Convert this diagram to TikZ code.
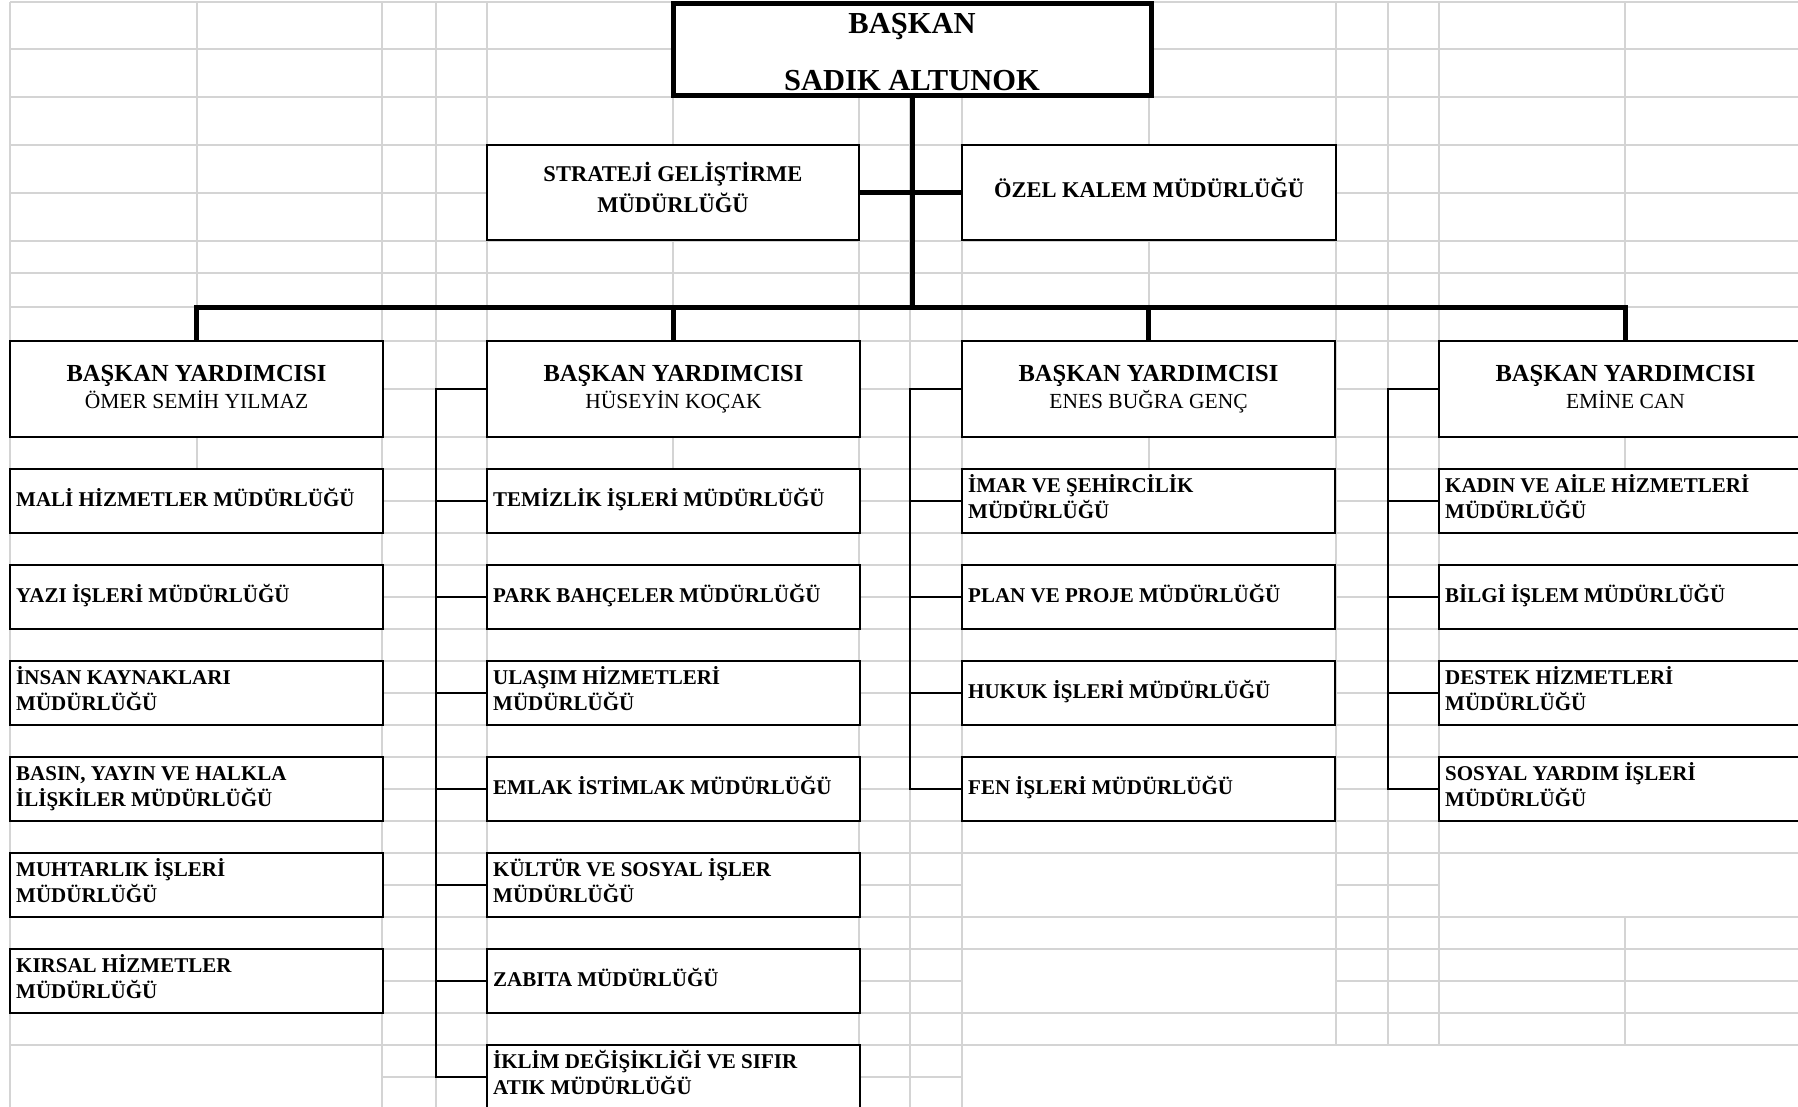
\documentclass[tikz,border=0pt]{standalone}
\usepackage{fontspec}
\setmainfont{Liberation Serif}
\definecolor{gridgray}{RGB}{212,212,212}
\tikzset{
  gridline/.style={draw=gridgray,line width=1.8pt},
  box/.style={draw=black,fill=white,line width=2.8pt,inner sep=0pt,outer sep=0pt,anchor=north west,minimum width=373pt,minimum height=64pt},
  vpbox/.style={box,minimum height=96pt},
  midbox/.style={box,line width=2.5pt,minimum height=95pt},
  headbox/.style={box,line width=5pt,minimum width=478pt,minimum height=92pt},
  busline/.style={line width=5pt},
  conn/.style={line width=2.2pt},
  subtxt/.style={anchor=base west,inner sep=0pt,font=\fontsize{21}{26}\selectfont\bfseries},
  vptitle/.style={anchor=base,inner sep=0pt,font=\fontsize{24.5}{28}\selectfont\bfseries},
  vpname/.style={anchor=base,inner sep=0pt,font=\fontsize{21.5}{26}\selectfont},
  midtxt/.style={anchor=base,inner sep=0pt,font=\fontsize{22.5}{28}\selectfont\bfseries},
  headtxt/.style={anchor=base,inner sep=0pt,font=\fontsize{30.5}{36}\selectfont\bfseries},
}
\newcommand\subone[4]{\node[box] (#1) at (#2,#3) {};
  \node[subtxt] (#1t) at ([xshift=6pt,yshift=-37pt]#1.north west) {#4};}
\newcommand\subtwo[5]{\node[box] (#1) at (#2,#3) {};
  \node[subtxt] (#1t) at ([xshift=6pt,yshift=-23pt]#1.north west) {#4};
  \node[subtxt] (#1u) at ([xshift=6pt,yshift=-49pt]#1.north west) {#5};}
\begin{document}
\begin{tikzpicture}[x=1pt,y=-1pt]
\path[use as bounding box] (0,0) rectangle (1798,1107);
\clip (0,0) rectangle (1798,1107);
\fill[white] (0,0) rectangle (1798,1107);
% ---------- spreadsheet grid ----------
\foreach \x in {10,197,382,436,487,673,859,910,962,1149,1336,1388,1439,1625}
  \draw[gridline] (\x,2) -- (\x,469);
\foreach \y in {2,49,97,145,193,241,273,307,341,389,437,469}
  \draw[gridline] (10,\y) -- (1798,\y);
\foreach \x in {382,436,487,859,910,962}
  \draw[gridline] (\x,469) -- (\x,1107);
\foreach \x in {1336,1388,1439}
  \draw[gridline] (\x,469) -- (\x,1045);
\foreach \y in {469,501,...,1077} {
  \draw[gridline] (382,\y) -- (487,\y);
  \draw[gridline] (859,\y) -- (962,\y);
}
\foreach \y in {469,501,...,1045}
  \draw[gridline] (1336,\y) -- (1439,\y);
\foreach \y in {469,533,565,629,661,725,757,821,853,917,949,1013,1045} {
  \draw[gridline] (10,\y) -- (382,\y);
  \draw[gridline] (487,\y) -- (859,\y);
  \draw[gridline] (962,\y) -- (1336,\y);
  \draw[gridline] (1439,\y) -- (1798,\y);
}
\draw[gridline] (10,469) -- (10,1107);
\draw[gridline] (1625,917) -- (1625,1045);
\draw[gridline] (1439,981) -- (1798,981);
% ---------- top ----------
\node[headbox] (baskan) at (673,4) {};
\node[headtxt] (bt1) at ([yshift=-30pt]baskan.north) {BAŞKAN};
\node[headtxt] (bt2) at ([yshift=-87pt]baskan.north) {SADIK ALTUNOK};
\node[midbox,minimum width=372pt] (strateji) at (487,145) {};
\node[midtxt] (st1) at ([yshift=-37pt]strateji.north) {STRATEJİ GELİŞTİRME};
\node[midtxt] (st2) at ([yshift=-68pt]strateji.north) {MÜDÜRLÜĞÜ};
\node[midbox,minimum width=374pt] (ozel) at (962,145) {};
\node[midtxt] (oz1) at ([yshift=-53pt]ozel.north) {ÖZEL KALEM MÜDÜRLÜĞÜ};
% ---------- vice presidents ----------
\node[vpbox] (vp1) at (10,341) {};
\node[vpbox] (vp2) at (487,341) {};
\node[vpbox] (vp3) at (962,341) {};
\node[vpbox] (vp4) at (1439,341) {};
\foreach \v/\n in {vp1/ÖMER SEMİH YILMAZ,vp2/HÜSEYİN KOÇAK,vp3/ENES BUĞRA GENÇ,vp4/EMİNE CAN} {
  \node[vptitle] (\v a) at ([yshift=-40pt]\v.north) {BAŞKAN YARDIMCISI};
  \node[vpname] (\v b) at ([yshift=-67pt]\v.north) {\n};
}
% ---------- column 1 ----------
\subone{s11}{10}{469}{MALİ HİZMETLER MÜDÜRLÜĞÜ}
\subone{s12}{10}{565}{YAZI İŞLERİ MÜDÜRLÜĞÜ}
\subtwo{s13}{10}{661}{İNSAN KAYNAKLARI}{MÜDÜRLÜĞÜ}
\subtwo{s14}{10}{757}{BASIN, YAYIN VE HALKLA}{İLİŞKİLER MÜDÜRLÜĞÜ}
\subtwo{s15}{10}{853}{MUHTARLIK İŞLERİ}{MÜDÜRLÜĞÜ}
\subtwo{s16}{10}{949}{KIRSAL HİZMETLER}{MÜDÜRLÜĞÜ}
% ---------- column 2 ----------
\subone{s21}{487}{469}{TEMİZLİK İŞLERİ MÜDÜRLÜĞÜ}
\subone{s22}{487}{565}{PARK BAHÇELER MÜDÜRLÜĞÜ}
\subtwo{s23}{487}{661}{ULAŞIM HİZMETLERİ}{MÜDÜRLÜĞÜ}
\subone{s24}{487}{757}{EMLAK İSTİMLAK MÜDÜRLÜĞÜ}
\subtwo{s25}{487}{853}{KÜLTÜR VE SOSYAL İŞLER}{MÜDÜRLÜĞÜ}
\subone{s26}{487}{949}{ZABITA MÜDÜRLÜĞÜ}
\subtwo{s27}{487}{1045}{İKLİM DEĞİŞİKLİĞİ VE SIFIR}{ATIK MÜDÜRLÜĞÜ}
% ---------- column 3 ----------
\subtwo{s31}{962}{469}{İMAR VE ŞEHİRCİLİK}{MÜDÜRLÜĞÜ}
\subone{s32}{962}{565}{PLAN VE PROJE MÜDÜRLÜĞÜ}
\subone{s33}{962}{661}{HUKUK İŞLERİ MÜDÜRLÜĞÜ}
\subone{s34}{962}{757}{FEN İŞLERİ MÜDÜRLÜĞÜ}
% ---------- column 4 ----------
\subtwo{s41}{1439}{469}{KADIN VE AİLE HİZMETLERİ}{MÜDÜRLÜĞÜ}
\subone{s42}{1439}{565}{BİLGİ İŞLEM MÜDÜRLÜĞÜ}
\subtwo{s43}{1439}{661}{DESTEK HİZMETLERİ}{MÜDÜRLÜĞÜ}
\subtwo{s44}{1439}{757}{SOSYAL YARDIM İŞLERİ}{MÜDÜRLÜĞÜ}
% ---------- thick hierarchy lines ----------
\coordinate (busc) at (baskan.south |- 0,307);
\draw[busline] (baskan.south) -- (busc);
\draw[busline] (strateji.east) -- (ozel.west);
\draw[busline] (vp1.north) -- (vp1.north |- busc) -- (vp4.north |- busc) -- (vp4.north);
\draw[busline] (vp2.north) -- (vp2.north |- busc);
\draw[busline] (vp3.north) -- (vp3.north |- busc);
% ---------- thin connectors ----------
\coordinate (sp2) at ([xshift=-51pt]vp2.west);
\draw[conn] (vp2.west) -- (sp2) |- (s27.west);
\foreach \k in {1,...,6} \draw[conn] (s2\k.west) -- (s2\k.west -| sp2);
\coordinate (sp3) at ([xshift=-52pt]vp3.west);
\draw[conn] (vp3.west) -- (sp3) |- (s34.west);
\foreach \k in {1,2,3} \draw[conn] (s3\k.west) -- (s3\k.west -| sp3);
\coordinate (sp4) at ([xshift=-51pt]vp4.west);
\draw[conn] (vp4.west) -- (sp4) |- (s44.west);
\foreach \k in {1,2,3} \draw[conn] (s4\k.west) -- (s4\k.west -| sp4);
\end{tikzpicture}
\end{document}
